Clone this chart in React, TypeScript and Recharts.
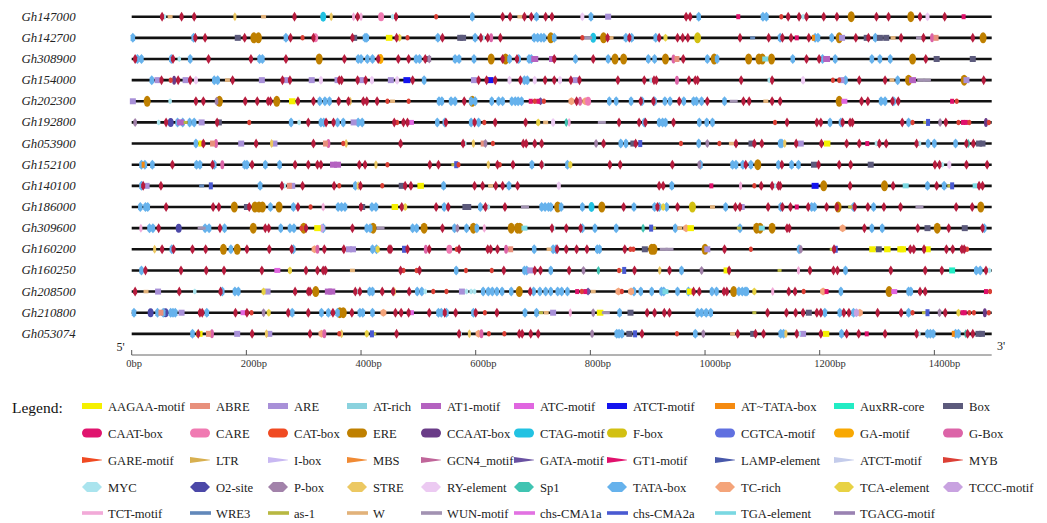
import { ScatterChart, Scatter, XAxis, YAxis, Customized } from 'recharts';

const FONT = "'Liberation Serif', 'Times New Roman', serif";

const genes = [
  'Gh147000', 'Gh142700', 'Gh308900', 'Gh154000', 'Gh202300', 'Gh192800', 'Gh053900', 'Gh152100',
  'Gh140100', 'Gh186000', 'Gh309600', 'Gh160200', 'Gh160250', 'Gh208500', 'Gh210800', 'Gh053074',
];
const bpTicks = [0, 200, 400, 600, 800, 1000, 1200, 1400];

// legend, row by row (bar, pill, wedge, hexagon, line)
const legendNames = [
  ['AAGAA-motif', 'ABRE', 'ARE', 'AT-rich', 'AT1-motif', 'ATC-motif', 'ATCT-motif', 'AT~TATA-box', 'AuxRR-core', 'Box'],
  ['CAAT-box', 'CARE', 'CAT-box', 'ERE', 'CCAAT-box', 'CTAG-motif', 'F-box', 'CGTCA-motif', 'GA-motif', 'G-Box'],
  ['GARE-motif', 'LTR', 'I-box', 'MBS', 'GCN4_motif', 'GATA-motif', 'GT1-motif', 'LAMP-element', 'ATCT-motif', 'MYB'],
  ['MYC', 'O2-site', 'P-box', 'STRE', 'RY-element', 'Sp1', 'TATA-box', 'TC-rich', 'TCA-element', 'TCCC-motif'],
  ['TCT-motif', 'WRE3', 'as-1', 'W', 'WUN-motif', 'chs-CMA1a', 'chs-CMA2a', 'TGA-element', 'TGACG-motif'],
];
const legendColors = [
  ['#f5f000', '#e8907c', '#a890d8', '#8ad2de', '#b462c0', '#e066e0', '#1414ee', '#f58a10', '#22ecc4', '#5c5a7c'],
  ['#e0146e', '#f07ab2', '#f04a22', '#bf8000', '#6a3c88', '#22c2e2', '#d2c012', '#6070e0', '#f8a802', '#dc64a8'],
  ['#f04a22', '#d8b050', '#c8b8f2', '#f08a34', '#c0669a', '#6a52a2', '#e0106c', '#4858aa', '#c4cceb', '#dc4036'],
  ['#aae4ee', '#4c48a8', '#a282aa', '#ecc862', '#eccaf2', '#40c4b2', '#66b2ec', '#f4a47a', '#e8d244', '#c8a2e0'],
  ['#f2aad8', '#6288ba', '#b8b842', '#e2b27a', '#a292b2', '#e272e2', '#4a5ad2', '#7ad8e2', '#9a82b2'],
];
const legendShapes = ['bar', 'pill', 'wedge', 'hex', 'line'];

// short code -> [legend row, legend column]
const codeRef: Record<string, [number, number]> = {
  Y: [0, 0], AB: [0, 1], A: [0, 2], A1: [0, 4], ATC: [0, 5], X: [0, 6], AT: [0, 7], AUX: [0, 8], B: [0, 9],
  C: [1, 0], K: [1, 1], E: [1, 3], CC: [1, 4], CT: [1, 5], F: [1, 6], GA: [1, 8], G: [1, 9],
  GATA: [2, 5], GT: [2, 6], R: [2, 9],
  M: [3, 0], O2: [3, 1], P: [3, 2], S: [3, 3], RY: [3, 4], SP: [3, 5], T: [3, 6], TC: [3, 7], TCA: [3, 8], TCCC: [3, 9],
  TCT: [4, 0], WR: [4, 1], AS: [4, 2], W: [4, 3], WUN: [4, 4], CH2: [4, 6], TGA: [4, 7],
};

type Mark = [number, string];

const gh147000: Mark[] = [[53,'C'],[57,'M'],[67,'W'],[87,'C'],[109,'C'],[180,'S'],[230,'W'],[284,'C'],[334,'CT'],[348,'S'],[387,'TCT'],[394,'C'],[400,'TCT'],[435,'K'],[455,'M'],[461,'C'],[531,'R'],[594,'T'],[647,'C'],[660,'C'],[677,'W'],[685,'C'],[697,'C'],[706,'T'],[722,'C'],[733,'C'],[786,'RY'],[801,'T'],[831,'A'],[967,'C'],[974,'C'],[989,'T'],[1058,'GT'],[1101,'T'],[1107,'T'],[1133,'R'],[1145,'C'],[1164,'C'],[1171,'M'],[1177,'C'],[1207,'C'],[1230,'C'],[1255,'E'],[1299,'C'],[1320,'C'],[1359,'E'],[1375,'C'],[1388,'RY'],[1418,'C'],[1451,'GT']];
const gh142700: Mark[] = [[2,'T'],[108,'T'],[111,'C'],[128,'C'],[185,'B'],[197,'C'],[213,'E'],[221,'E'],[269,'T'],[277,'C'],[298,'R'],[317,'C'],[320,'K'],[385,'C'],[388,'B'],[407,'T'],[410,'T'],[449,'Y'],[462,'C'],[467,'TCA'],[481,'R'],[534,'T'],[542,'C'],[573,'B'],[578,'B'],[599,'T'],[609,'C'],[613,'M'],[621,'C'],[627,'G'],[643,'C'],[702,'T'],[708,'T'],[714,'T'],[719,'T'],[731,'E'],[737,'T'],[786,'R'],[796,'WUN'],[805,'CT'],[823,'E'],[830,'C'],[836,'W'],[862,'T'],[868,'C'],[872,'T'],[914,'T'],[920,'C'],[931,'TCA'],[952,'C'],[961,'C'],[970,'C'],[987,'F'],[1061,'C'],[1083,'WR'],[1111,'C'],[1131,'T'],[1135,'C'],[1150,'C'],[1160,'GT'],[1181,'C'],[1189,'AT'],[1192,'T'],[1197,'T'],[1221,'T'],[1234,'E'],[1239,'A'],[1263,'C'],[1282,'B'],[1285,'C'],[1297,'T'],[1305,'B'],[1316,'B'],[1328,'W'],[1342,'C'],[1375,'WUN'],[1381,'C'],[1396,'G'],[1403,'AB'],[1467,'C'],[1485,'E']];
const gh308900: Mark[] = [[6,'C'],[10,'T'],[17,'T'],[69,'T'],[72,'C'],[83,'M'],[102,'T'],[134,'C'],[208,'C'],[223,'T'],[228,'T'],[269,'C'],[327,'E'],[371,'C'],[395,'T'],[400,'T'],[411,'T'],[420,'T'],[430,'C'],[434,'GA'],[465,'C'],[483,'C'],[496,'T'],[502,'T'],[512,'C'],[517,'B'],[519,'P'],[564,'T'],[571,'T'],[597,'T'],[627,'E'],[647,'C'],[652,'E'],[659,'T'],[672,'C'],[675,'T'],[693,'T'],[697,'T'],[703,'A1'],[734,'A1'],[737,'C'],[774,'T'],[805,'C'],[831,'T'],[843,'E'],[858,'E'],[901,'T'],[912,'T'],[931,'E'],[945,'G'],[951,'AB'],[962,'C'],[1004,'T'],[1016,'E'],[1021,'T'],[1076,'E'],[1094,'E'],[1100,'E'],[1105,'TGA'],[1116,'E'],[1153,'T'],[1177,'C'],[1199,'C'],[1205,'T'],[1212,'A1'],[1227,'T'],[1291,'T'],[1305,'T'],[1323,'T'],[1362,'E'],[1385,'C'],[1404,'B'],[1467,'B']];
const gh154000: Mark[] = [[35,'T'],[45,'A'],[52,'C'],[68,'R'],[74,'CC'],[81,'C'],[94,'A'],[102,'C'],[112,'RY'],[144,'T'],[150,'T'],[167,'W'],[176,'C'],[227,'A'],[263,'C'],[269,'A'],[276,'C'],[314,'A'],[330,'RY'],[359,'A'],[362,'C'],[366,'C'],[394,'C'],[402,'A'],[408,'C'],[419,'RY'],[452,'A'],[463,'RY'],[480,'X'],[490,'C'],[510,'T'],[597,'A'],[605,'C'],[619,'C'],[625,'X'],[634,'C'],[659,'RY'],[678,'C'],[685,'T'],[690,'T'],[703,'RY'],[721,'C'],[737,'C'],[747,'RY'],[766,'C'],[774,'A'],[781,'C'],[848,'C'],[894,'C'],[906,'M'],[911,'C'],[915,'C'],[951,'G'],[972,'C'],[983,'C'],[987,'C'],[1063,'C'],[1112,'M'],[1117,'C'],[1171,'RY'],[1223,'R'],[1234,'R'],[1238,'A'],[1245,'T'],[1269,'C'],[1314,'C'],[1326,'W'],[1336,'T'],[1355,'E'],[1362,'A1'],[1377,'WUN'],[1387,'WUN'],[1452,'E'],[1456,'A'],[1486,'C']];
const gh202300: Mark[] = [[2,'A'],[27,'E'],[67,'M'],[112,'C'],[125,'C'],[148,'P'],[153,'E'],[198,'C'],[219,'C'],[238,'C'],[242,'C'],[253,'E'],[280,'Y'],[290,'C'],[317,'C'],[328,'T'],[337,'T'],[345,'T'],[361,'C'],[378,'C'],[381,'S'],[404,'C'],[406,'M'],[410,'C'],[428,'C'],[446,'R'],[455,'W'],[483,'R'],[536,'T'],[541,'T'],[557,'T'],[564,'T'],[580,'C'],[592,'T'],[594,'E'],[599,'T'],[628,'T'],[640,'T'],[647,'T'],[663,'T'],[669,'T'],[674,'T'],[680,'T'],[696,'GT'],[703,'R'],[709,'GT'],[713,'GATA'],[719,'R'],[767,'TC'],[776,'C'],[782,'G'],[791,'TC'],[796,'K'],[833,'T'],[845,'T'],[871,'T'],[888,'C'],[890,'T'],[910,'C'],[912,'T'],[930,'T'],[939,'T'],[955,'C'],[963,'T'],[980,'T'],[985,'T'],[994,'T'],[1004,'C'],[1034,'T'],[1050,'WUN'],[1067,'C'],[1077,'C'],[1106,'W'],[1117,'C'],[1131,'C'],[1234,'E'],[1243,'ATC'],[1273,'C'],[1284,'C'],[1307,'T'],[1314,'T'],[1327,'C'],[1329,'T'],[1337,'C'],[1431,'GT'],[1439,'R']];
const gh192800: Mark[] = [[6,'P'],[47,'M'],[60,'C'],[68,'O2'],[80,'T'],[85,'A1'],[89,'T'],[94,'AS'],[101,'T'],[109,'T'],[122,'A'],[149,'C'],[152,'B'],[205,'R'],[278,'T'],[292,'M'],[308,'C'],[330,'T'],[335,'T'],[339,'C'],[352,'C'],[359,'T'],[369,'T'],[387,'A'],[395,'T'],[402,'T'],[458,'C'],[463,'R'],[474,'C'],[481,'C'],[487,'ATC'],[533,'T'],[546,'T'],[548,'C'],[592,'T'],[598,'C'],[605,'T'],[615,'R'],[634,'C'],[687,'C'],[709,'TCA'],[722,'W'],[735,'RY'],[758,'SP'],[763,'TCT'],[820,'WUN'],[850,'C'],[885,'C'],[894,'T'],[896,'C'],[920,'T'],[926,'T'],[931,'T'],[945,'C'],[990,'T'],[1003,'T'],[1013,'T'],[1122,'R'],[1143,'C'],[1195,'C'],[1202,'C'],[1218,'T'],[1237,'T'],[1240,'C'],[1253,'C'],[1257,'C'],[1344,'C'],[1355,'T'],[1362,'R'],[1384,'AS'],[1389,'CH2'],[1410,'P'],[1420,'C'],[1442,'R'],[1450,'GT'],[1455,'GT'],[1461,'R'],[1490,'CC'],[1495,'R']];
const gh053900: Mark[] = [[112,'T'],[122,'Y'],[125,'C'],[141,'AB'],[147,'G'],[191,'A'],[217,'C'],[244,'S'],[249,'A'],[317,'C'],[338,'AB'],[343,'G'],[369,'R'],[374,'S'],[469,'C'],[578,'C'],[581,'M'],[596,'S'],[613,'AB'],[617,'P'],[630,'R'],[683,'C'],[688,'C'],[703,'C'],[715,'C'],[810,'P'],[823,'C'],[853,'T'],[862,'T'],[875,'B'],[879,'C'],[887,'CH2'],[958,'R'],[989,'T'],[1004,'P'],[1025,'R'],[1046,'W'],[1054,'C'],[1081,'B'],[1086,'C'],[1099,'C'],[1131,'T'],[1134,'T'],[1139,'S'],[1159,'C'],[1167,'A'],[1203,'C'],[1213,'Y'],[1247,'C'],[1269,'C'],[1283,'GT'],[1299,'M'],[1304,'C'],[1316,'C'],[1369,'C'],[1374,'M'],[1389,'T'],[1400,'T'],[1437,'T'],[1456,'C'],[1459,'SP'],[1468,'C'],[1478,'B'],[1484,'B']];
const gh152100: Mark[] = [[17,'T'],[20,'AT'],[23,'T'],[36,'T'],[71,'C'],[113,'T'],[119,'T'],[141,'C'],[144,'T'],[158,'G'],[197,'T'],[201,'T'],[210,'C'],[233,'T'],[258,'T'],[285,'C'],[308,'C'],[324,'C'],[330,'C'],[352,'A1'],[359,'A1'],[397,'C'],[407,'C'],[426,'S'],[446,'R'],[520,'C'],[535,'C'],[561,'AS'],[566,'CH2'],[570,'R'],[622,'S'],[638,'C'],[642,'R'],[665,'C'],[698,'T'],[715,'C'],[717,'M'],[760,'T'],[765,'TCA'],[834,'C'],[852,'C'],[943,'C'],[990,'P'],[992,'T'],[1048,'T'],[1054,'T'],[1066,'T'],[1071,'C'],[1080,'T'],[1092,'E'],[1128,'T'],[1134,'C'],[1151,'T'],[1163,'T'],[1190,'B'],[1198,'C'],[1234,'C'],[1254,'C'],[1289,'B'],[1401,'C'],[1409,'C'],[1414,'M'],[1426,'RY'],[1456,'C'],[1492,'C']];
const gh140100: Mark[] = [[17,'T'],[20,'C'],[26,'A'],[51,'C'],[122,'WR'],[138,'CH2'],[224,'T'],[262,'C'],[266,'M'],[275,'AB'],[280,'A'],[298,'C'],[353,'C'],[362,'R'],[390,'T'],[395,'S'],[399,'C'],[437,'R'],[471,'B'],[477,'C'],[487,'C'],[504,'Y'],[544,'T'],[598,'C'],[612,'C'],[626,'W'],[635,'C'],[647,'C'],[658,'T'],[673,'C'],[745,'RY'],[920,'C'],[927,'C'],[942,'T'],[1011,'GT'],[1062,'TCT'],[1086,'R'],[1098,'C'],[1117,'C'],[1122,'M'],[1128,'C'],[1131,'C'],[1192,'X'],[1207,'E'],[1253,'C'],[1313,'E'],[1328,'C'],[1350,'TGA'],[1388,'T'],[1404,'C'],[1417,'T'],[1426,'AS'],[1431,'CH2'],[1472,'TGA'],[1478,'C'],[1484,'C']];
const gh186000: Mark[] = [[15,'T'],[24,'T'],[28,'T'],[60,'C'],[142,'C'],[152,'C'],[179,'E'],[201,'B'],[205,'C'],[215,'E'],[222,'E'],[228,'E'],[242,'T'],[257,'E'],[282,'T'],[290,'C'],[312,'R'],[334,'TCT'],[360,'T'],[366,'T'],[372,'T'],[400,'C'],[402,'B'],[419,'T'],[426,'T'],[459,'Y'],[471,'C'],[477,'TCA'],[531,'C'],[545,'T'],[552,'C'],[582,'B'],[587,'B'],[608,'T'],[617,'C'],[622,'M'],[651,'C'],[686,'WUN'],[715,'T'],[721,'T'],[727,'T'],[731,'T'],[743,'E'],[749,'T'],[786,'T'],[802,'CT'],[820,'E'],[858,'C'],[876,'T'],[912,'T'],[917,'C'],[920,'T'],[927,'TCA'],[933,'T'],[952,'C'],[978,'F'],[1013,'W'],[1036,'T'],[1053,'C'],[1061,'C'],[1064,'A'],[1110,'C'],[1132,'T'],[1135,'C'],[1149,'C'],[1160,'GT'],[1180,'C'],[1186,'T'],[1191,'T'],[1212,'C'],[1230,'C'],[1232,'E'],[1253,'AS'],[1259,'T'],[1261,'C'],[1284,'C'],[1294,'T'],[1312,'C'],[1341,'C'],[1374,'WUN'],[1438,'C'],[1466,'C'],[1481,'E']];
const gh309600: Mark[] = [[16,'TCT'],[31,'T'],[37,'T'],[47,'C'],[82,'O2'],[122,'WUN'],[128,'T'],[135,'T'],[154,'C'],[162,'T'],[212,'E'],[233,'C'],[239,'C'],[260,'T'],[276,'T'],[283,'T'],[296,'R'],[300,'E'],[304,'C'],[324,'Y'],[332,'TCCC'],[334,'T'],[385,'C'],[410,'T'],[416,'T'],[421,'E'],[434,'WUN'],[490,'T'],[497,'T'],[510,'E'],[542,'C'],[563,'T'],[568,'P'],[584,'T'],[596,'E'],[602,'T'],[615,'TCT'],[662,'E'],[673,'E'],[677,'E'],[685,'TGA'],[733,'C'],[736,'M'],[758,'C'],[783,'C'],[786,'T'],[808,'T'],[845,'T'],[892,'SP'],[906,'CH2'],[911,'AS'],[948,'T'],[956,'W'],[967,'TC'],[975,'Y'],[1059,'AS'],[1061,'T'],[1090,'E'],[1096,'E'],[1099,'TGA'],[1117,'E'],[1143,'C'],[1147,'C'],[1240,'TC'],[1278,'C'],[1291,'T'],[1309,'T'],[1371,'C'],[1388,'B'],[1405,'E'],[1425,'C'],[1453,'B'],[1484,'C'],[1487,'T']];
const gh160200: Mark[] = [[40,'S'],[53,'C'],[70,'T'],[73,'C'],[106,'C'],[129,'C'],[160,'E'],[173,'T'],[184,'E'],[201,'C'],[240,'C'],[279,'C'],[282,'T'],[319,'TC'],[324,'G'],[336,'C'],[370,'C'],[379,'A'],[386,'A'],[420,'T'],[427,'T'],[429,'TCA'],[449,'C'],[452,'C'],[475,'CH2'],[481,'C'],[513,'G'],[519,'C'],[554,'K'],[567,'R'],[571,'C'],[621,'C'],[626,'C'],[638,'C'],[653,'G'],[661,'AB'],[702,'T'],[728,'W'],[735,'T'],[740,'T'],[742,'C'],[758,'C'],[776,'C'],[794,'C'],[812,'T'],[816,'T'],[860,'C'],[870,'R'],[875,'R'],[895,'B'],[907,'E'],[911,'E'],[928,'WUN'],[938,'WUN'],[1000,'E'],[1004,'A'],[1034,'C'],[1080,'R'],[1164,'T'],[1167,'P'],[1221,'AS'],[1225,'C'],[1228,'CH2'],[1292,'Y'],[1303,'B'],[1318,'Y'],[1341,'Y'],[1345,'Y'],[1358,'C'],[1364,'C'],[1382,'C'],[1388,'Y'],[1421,'C'],[1432,'C'],[1448,'C'],[1450,'A'],[1452,'C'],[1457,'R']];
const gh160250: Mark[] = [[17,'T'],[24,'C'],[86,'C'],[130,'C'],[161,'C'],[227,'C'],[254,'ATC'],[276,'TCA'],[304,'C'],[324,'C'],[334,'C'],[336,'P'],[338,'C'],[385,'W'],[469,'C'],[474,'R'],[497,'R'],[502,'C'],[566,'T'],[583,'R'],[628,'R'],[649,'C'],[685,'T'],[689,'T'],[695,'A'],[703,'C'],[713,'C'],[731,'T'],[763,'C'],[788,'P'],[814,'SP'],[850,'R'],[855,'AS'],[859,'CH2'],[877,'C'],[921,'S'],[938,'C'],[959,'T'],[994,'P'],[1038,'Y'],[1042,'C'],[1130,'AS'],[1163,'TCT'],[1183,'C'],[1224,'C'],[1231,'C'],[1245,'T'],[1324,'C'],[1384,'C'],[1413,'C'],[1431,'AUX'],[1473,'T'],[1480,'T'],[1490,'C'],[1496,'M']];
const gh208500: Mark[] = [[6,'C'],[25,'W'],[46,'A'],[83,'C'],[110,'M'],[155,'C'],[158,'T'],[180,'T'],[186,'T'],[230,'TCA'],[237,'A'],[285,'C'],[308,'C'],[311,'C'],[321,'E'],[343,'A1'],[349,'A1'],[390,'C'],[394,'M'],[398,'C'],[415,'T'],[420,'T'],[437,'C'],[456,'C'],[458,'S'],[484,'C'],[498,'T'],[506,'T'],[512,'M'],[526,'R'],[549,'R'],[576,'A'],[584,'M'],[592,'M'],[598,'M'],[613,'T'],[622,'T'],[629,'T'],[637,'T'],[646,'T'],[662,'T'],[676,'E'],[695,'C'],[701,'T'],[712,'T'],[722,'T'],[731,'T'],[743,'T'],[750,'T'],[760,'T'],[777,'GT'],[785,'R'],[791,'GT'],[796,'GATA'],[805,'W'],[849,'TC'],[855,'R'],[871,'TC'],[876,'T'],[888,'T'],[907,'T'],[924,'T'],[928,'T'],[931,'TGA'],[952,'T'],[971,'T'],[974,'Y'],[980,'C'],[990,'C'],[1012,'T'],[1020,'T'],[1033,'C'],[1038,'C'],[1050,'E'],[1059,'T'],[1065,'T'],[1070,'T'],[1073,'T'],[1086,'TCA'],[1118,'TCT'],[1146,'C'],[1157,'C'],[1172,'R'],[1206,'TC'],[1212,'GT'],[1237,'T'],[1321,'E'],[1330,'ATC'],[1355,'T'],[1359,'T'],[1375,'C'],[1384,'C'],[1490,'GT'],[1497,'R']];
const gh210800: Mark[] = [[4,'T'],[33,'O2'],[45,'T'],[51,'AB'],[55,'T'],[59,'O2'],[68,'T'],[72,'T'],[76,'T'],[87,'A'],[119,'C'],[123,'C'],[131,'T'],[181,'C'],[195,'ATC'],[201,'C'],[209,'R'],[230,'P'],[239,'TCA'],[273,'C'],[280,'T'],[308,'C'],[331,'T'],[343,'T'],[351,'C'],[359,'T'],[363,'E'],[369,'E'],[384,'C'],[398,'T'],[403,'T'],[420,'T'],[439,'TC'],[460,'C'],[470,'C'],[483,'C'],[487,'ATC'],[519,'C'],[535,'T'],[540,'T'],[546,'C'],[549,'T'],[565,'C'],[596,'T'],[600,'C'],[616,'R'],[637,'C'],[686,'T'],[706,'T'],[714,'AS'],[723,'W'],[735,'A'],[765,'TCT'],[805,'P'],[817,'Y'],[827,'WUN'],[851,'T'],[870,'B'],[899,'C'],[912,'C'],[929,'C'],[938,'C'],[987,'T'],[994,'T'],[1002,'T'],[1010,'T'],[1086,'AS'],[1109,'C'],[1142,'C'],[1158,'C'],[1171,'C'],[1181,'B'],[1195,'C'],[1202,'C'],[1209,'T'],[1235,'T'],[1242,'C'],[1251,'C'],[1259,'T'],[1264,'TCCC'],[1270,'TC'],[1301,'C'],[1342,'C'],[1355,'T'],[1362,'R'],[1382,'AS'],[1388,'CH2'],[1409,'P'],[1419,'C'],[1442,'TCA'],[1449,'GT'],[1453,'GT'],[1461,'R'],[1469,'R'],[1488,'CC'],[1495,'R']];
const gh053074: Mark[] = [[106,'T'],[116,'C'],[118,'Y'],[134,'AB'],[140,'G'],[184,'A'],[210,'C'],[235,'S'],[240,'A'],[311,'C'],[331,'TC'],[336,'G'],[362,'R'],[366,'S'],[410,'TCA'],[419,'CH2'],[423,'AS'],[462,'C'],[571,'C'],[573,'M'],[589,'S'],[605,'TC'],[610,'G'],[623,'R'],[650,'R'],[676,'C'],[681,'C'],[696,'C'],[709,'C'],[803,'P'],[846,'T'],[850,'T'],[855,'T'],[868,'B'],[878,'CH2'],[890,'C'],[951,'R'],[983,'T'],[997,'P'],[1048,'W'],[1057,'C'],[1084,'B'],[1088,'C'],[1102,'C'],[1132,'T'],[1137,'T'],[1141,'S'],[1160,'C'],[1164,'M'],[1171,'A'],[1202,'C'],[1211,'Y'],[1238,'T'],[1247,'C'],[1268,'C'],[1282,'GT'],[1314,'C'],[1369,'C'],[1373,'M'],[1388,'T'],[1393,'T'],[1398,'T'],[1433,'AT'],[1437,'T'],[1442,'T'],[1455,'SP'],[1458,'C'],[1467,'C'],[1477,'B'],[1483,'B']];

const rows = [
  gh147000, gh142700, gh308900, gh154000, gh202300, gh192800, gh053900, gh152100,
  gh140100, gh186000, gh309600, gh160200, gh160250, gh208500, gh210800, gh053074,
];

// how each element type is drawn on the gene lines (px)
const markStyle: Record<string, { shape: string; w: number; h: number; color?: string }> = {
  E: { shape: 'ell', w: 7, h: 11 }, F: { shape: 'ell', w: 7, h: 11 }, CT: { shape: 'ell', w: 6, h: 10 },
  GA: { shape: 'ell', w: 6, h: 10 }, O2: { shape: 'ell', w: 6, h: 9 }, K: { shape: 'ell', w: 6, h: 9 },
  G: { shape: 'ell', w: 4, h: 9 }, CC: { shape: 'ell', w: 4, h: 9 }, R: { shape: 'ell', w: 4, h: 5.5 },
  T: { shape: 'hex', w: 4.5, h: 10 }, TC: { shape: 'hex', w: 6, h: 8 }, TCCC: { shape: 'hex', w: 5, h: 9 },
  S: { shape: 'hex', w: 3, h: 9 }, TCA: { shape: 'hex', w: 4, h: 8 }, RY: { shape: 'hex', w: 4, h: 9 },
  M: { shape: 'hex', w: 3.5, h: 6 }, TCT: { shape: 'hex', w: 3, h: 9 }, P: { shape: 'hex', w: 3.5, h: 9 },
  SP: { shape: 'hex', w: 3, h: 9 }, GATA: { shape: 'hex', w: 4, h: 8 },
  C: { shape: 'dia', w: 4, h: 10, color: '#b71c3e' },
  A: { shape: 'rect', w: 6, h: 6 }, A1: { shape: 'rect', w: 7, h: 6 }, B: { shape: 'rect', w: 6, h: 6 },
  Y: { shape: 'rect', w: 6.5, h: 6 }, X: { shape: 'rect', w: 7, h: 6 }, AUX: { shape: 'rect', w: 6, h: 6 },
  TGA: { shape: 'rect', w: 6, h: 5 }, W: { shape: 'rect', w: 5, h: 3.5 }, WUN: { shape: 'rect', w: 8, h: 3 },
  AS: { shape: 'rect', w: 4, h: 3 }, CH2: { shape: 'rect', w: 4, h: 7 }, WR: { shape: 'rect', w: 5, h: 3 },
  ATC: { shape: 'rect', w: 6, h: 5 }, AB: { shape: 'rect', w: 5, h: 6 }, AT: { shape: 'rect', w: 3, h: 6 },
  GT: { shape: 'rect', w: 4, h: 5 },
};
const drawOrder = ['E', 'F', 'CT', 'GA', 'O2', 'T', 'TC', 'TCCC', 'K', 'G', 'A', 'A1', 'B', 'Y', 'X', 'AUX', 'TGA', 'W', 'WUN', 'AS', 'CH2', 'WR', 'ATC', 'AB', 'AT', 'S', 'TCA', 'RY', 'M', 'TCT', 'P', 'SP', 'GATA', 'CC', 'GT', 'R', 'C'];

const colorOf = (code: string) => {
  const [r, c] = codeRef[code];
  return markStyle[code].color ?? legendColors[r][c];
};

const MarkShape = ({ cx, cy, code }: { cx: number; cy: number; code: string }) => {
  const s = markStyle[code];
  const fill = colorOf(code);
  const { w, h } = s;
  if (s.shape === 'rect') return <rect x={cx - w / 2} y={cy - h / 2} width={w} height={h} fill={fill} />;
  if (s.shape === 'ell') return <ellipse cx={cx} cy={cy} rx={w / 2} ry={h / 2} fill={fill} />;
  if (s.shape === 'dia') {
    const p = [[cx, cy - h / 2], [cx + w / 2, cy - h / 6], [cx + w / 2, cy + h / 6], [cx, cy + h / 2], [cx - w / 2, cy + h / 6], [cx - w / 2, cy - h / 6]];
    return <polygon points={p.map((q) => q.join(',')).join(' ')} fill={fill} />;
  }
  const p = [[cx - w / 2, cy - h / 4], [cx, cy - h / 2], [cx + w / 2, cy - h / 4], [cx + w / 2, cy + h / 4], [cx, cy + h / 2], [cx - w / 2, cy + h / 4]];
  return <polygon points={p.map((q) => q.join(',')).join(' ')} fill={fill} />;
};

const GeneTick = ({ y, payload }: any) => (
  <text x={21.5} y={y} dominantBaseline="central" fontSize={12.8} fontStyle="italic" fontFamily={FONT} fill="#222">
    {genes[payload.value]}
  </text>
);

const BpTick = ({ x, y, payload }: any) => (
  <g>
    <line x1={x} x2={x} y1={y - 5} y2={y} stroke="#555" strokeWidth={1} />
    <text x={x - 5.5} y={y + 8.5} dominantBaseline="central" fontSize={10.5} fontFamily={FONT} fill="#333">
      {payload.value}bp
    </text>
  </g>
);

const legendCols = [82, 190, 268, 347, 421, 514, 607, 715, 834, 943];
const legendRowsY = [406, 433, 460, 487, 513];

const Swatch = ({ kind, x, y, fill }: { kind: string; x: number; y: number; fill: string }) => {
  if (kind === 'bar') return <rect x={x} y={y - 3} width={20} height={6} fill={fill} />;
  if (kind === 'pill') return <rect x={x} y={y - 4.5} width={20} height={9} rx={4.5} fill={fill} />;
  if (kind === 'wedge') return <polygon points={`${x},${y - 3} ${x + 20},${y - 0.3} ${x + 20},${y + 0.3} ${x},${y + 3}`} fill={fill} />;
  if (kind === 'hex')
    return <polygon points={`${x},${y} ${x + 5},${y - 5} ${x + 15},${y - 5} ${x + 20},${y} ${x + 15},${y + 5} ${x + 5},${y + 5}`} fill={fill} />;
  return <rect x={x} y={y - 1.8} width={21} height={3.6} fill={fill} />;
};

const Extras = () => (
  <g fontFamily={FONT}>
    <text x={116.5} y={347} dominantBaseline="central" fontSize={12} fill="#222">5'</text>
    <text x={997} y={346} dominantBaseline="central" fontSize={12} fill="#222">3'</text>
    <text x={12} y={407} dominantBaseline="central" fontSize={15.5} fill="#111">Legend:</text>
    {legendNames.map((row, r) =>
      row.map((name, c) => (
        <g key={`${r}-${c}`}>
          <Swatch kind={legendShapes[r]} x={legendCols[c]} y={legendRowsY[r]} fill={legendColors[r][c]} />
          <text x={legendCols[c] + 26} y={legendRowsY[r] + 0.5} dominantBaseline="central" fontSize={12.6} fill="#222">
            {name}
          </text>
        </g>
      )),
    )}
  </g>
);

export default function App() {
  return (
    <div style={{ position: 'absolute', left: 0, top: 0, width: 1047, height: 523, background: '#fff' }}>
      <ScatterChart width={1047} height={523} margin={{ top: 16.7, right: 55.3, bottom: 148, left: 0 }}>
        <XAxis
          type="number"
          dataKey="x"
          domain={[0, 1500]}
          ticks={bpTicks}
          interval={0}
          height={20}
          tickSize={0}
          tickMargin={0}
          tickLine={false}
          axisLine={{ stroke: '#666', strokeWidth: 1 }}
          tick={<BpTick />}
        />
        <YAxis
          type="number"
          dataKey="y"
          domain={[0, 16]}
          reversed
          ticks={genes.map((_, i) => i)}
          interval={0}
          width={131.7}
          axisLine={false}
          tickLine={false}
          tick={<GeneTick />}
        />
        {genes.map((g, i) => (
          <Scatter
            key={g}
            data={[{ x: 0, y: i }, { x: 1500, y: i }]}
            line={{ stroke: '#111', strokeWidth: 2.6 }}
            shape={() => <g />}
            isAnimationActive={false}
          />
        ))}
        {drawOrder.map((code) => (
          <Scatter
            key={code}
            data={rows.flatMap((r, i) => r.filter((m) => m[1] === code).map((m) => ({ x: m[0], y: i })))}
            shape={(p: any) => <MarkShape cx={p.cx} cy={p.cy} code={code} />}
            isAnimationActive={false}
          />
        ))}
        <Customized component={Extras} />
      </ScatterChart>
    </div>
  );
}
